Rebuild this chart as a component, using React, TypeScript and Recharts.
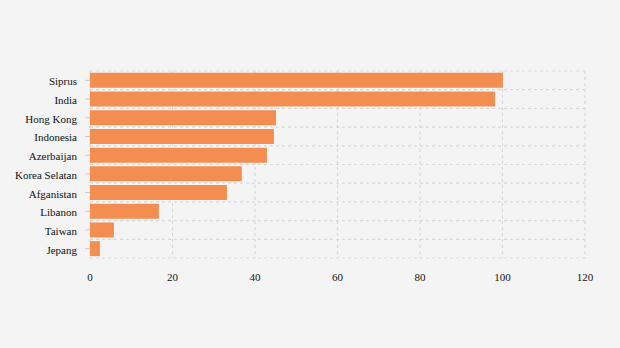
import { BarChart, Bar, XAxis, YAxis, CartesianGrid } from "recharts"

const countries = [
  "Siprus",
  "India",
  "Hong Kong",
  "Indonesia",
  "Azerbaijan",
  "Korea Selatan",
  "Afganistan",
  "Libanon",
  "Taiwan",
  "Jepang",
]
const values = [100.1, 98.2, 45.1, 44.6, 42.9, 36.8, 33.2, 16.7, 5.8, 2.4]
const xTicks = [0, 20, 40, 60, 80, 100, 120]

const data = countries.map((name, i) => ({ name, value: values[i] }))

const font = "'Liberation Serif', 'Times New Roman', serif"

function YTick({ x, y, payload }: any) {
  return (
    <text x={x} y={y} dy={5} textAnchor="end" fill="#111" fontSize={11} fontFamily={font}>
      {payload.value}
    </text>
  )
}

function XTick({ x, y, payload }: any) {
  return (
    <text x={x} y={y} dy={10} textAnchor="middle" fill="#111" fontSize={11} fontFamily={font}>
      {payload.value}
    </text>
  )
}

export default function App() {
  return (
    <div style={{ position: "absolute", left: 0, top: 0, width: 620, height: 348, background: "#f4f4f4" }}>
      <BarChart
        width={620}
        height={348}
        data={data}
        layout="vertical"
        margin={{ top: 71, right: 35, left: 0, bottom: 60 }}
        barCategoryGap="10%"
        style={{ fontFamily: font }}
      >
        <CartesianGrid
          stroke="#d8d8d8"
          strokeDasharray="3 3"
          strokeWidth={1.2}
          horizontalCoordinatesGenerator={({ offset }: any) =>
            countries
              .map((_, i) => offset.top + (i * offset.height) / countries.length)
              .concat(offset.top + offset.height)
          }
        />
        <XAxis
          type="number"
          domain={[0, 120]}
          ticks={xTicks}
          axisLine={false}
          tickLine={false}
          tickSize={0}
          tickMargin={13}
          height={30}
          tick={<XTick />}
        />
        <YAxis
          type="category"
          dataKey="name"
          width={90}
          interval={0}
          axisLine={false}
          tickLine={{ stroke: "#c8c8c8" }}
          tickSize={5}
          tickMargin={8}
          tick={<YTick />}
        />
        <Bar dataKey="value" fill="#f48d50" isAnimationActive={false} />
      </BarChart>
    </div>
  )
}
